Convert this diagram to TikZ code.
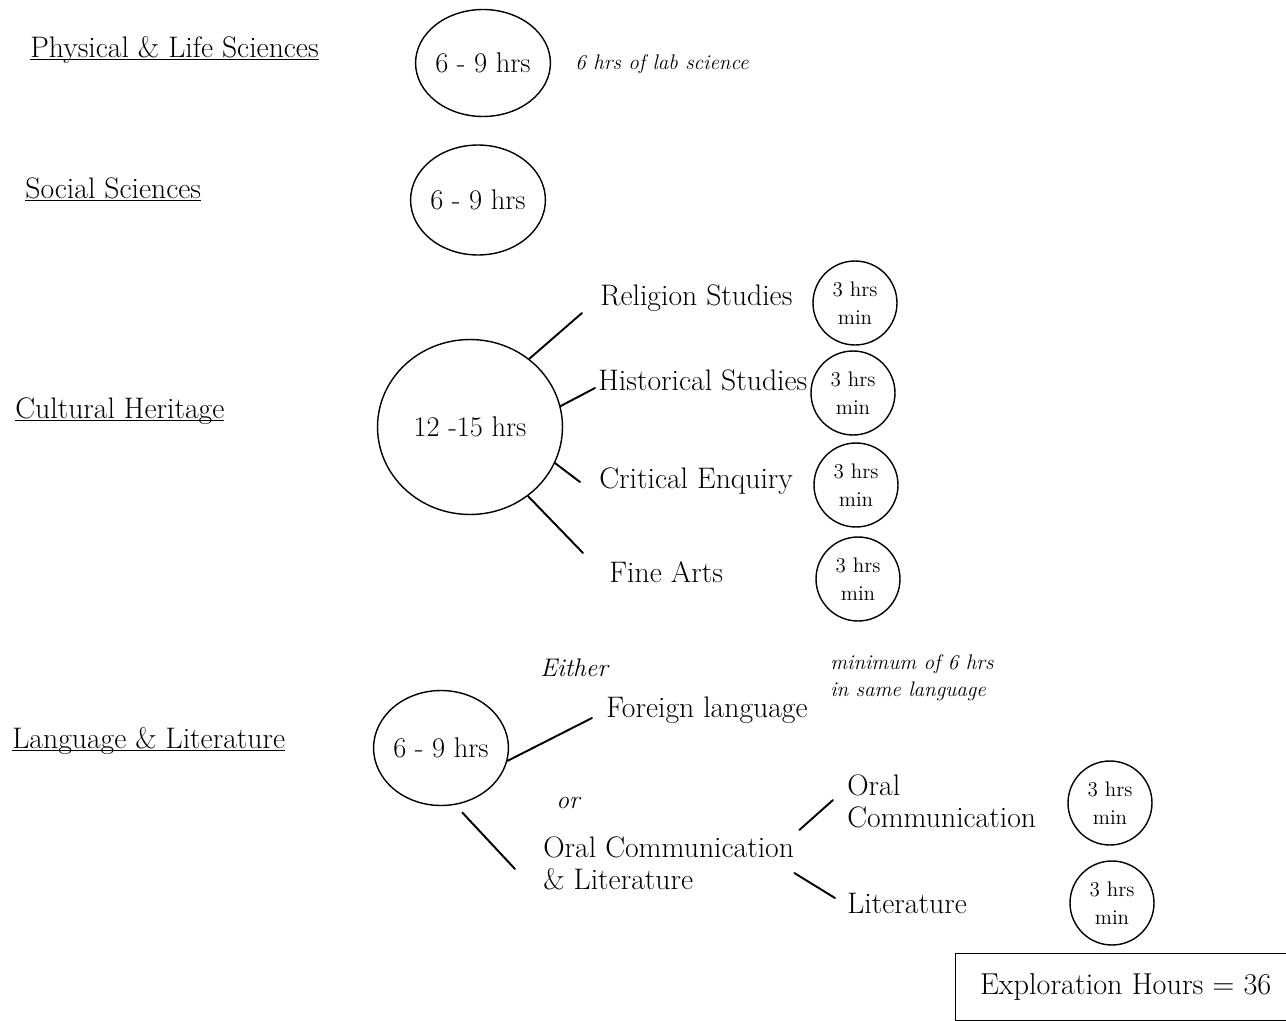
\documentclass[tikz,border=0pt]{standalone}
\usepackage{fontspec}
\usetikzlibrary{shapes.geometric,calc}

\newcommand\areaname[1]{\underline{\smash{#1}}}
\tikzset{
  hrs/.style={draw,ellipse,line width=0.8pt,inner sep=0pt,font=\fontsize{16.2}{18}\selectfont},
  minhrs/.style={draw,circle,line width=0.8pt,minimum size=1.68cm,inner sep=0pt,align=center,font=\fontsize{12}{16}\selectfont},
  lbl/.style={anchor=base west,inner sep=0pt,font=\fontsize{16.9}{18.7}\selectfont},
  note/.style={anchor=base west,inner sep=0pt,align=left,font=\fontsize{12}{15.3}\selectfont\itshape},
  branch/.style={line width=1.1pt},
}

\begin{document}
\begin{tikzpicture}[x=0.02cm,y=-0.02cm,line cap=round,line join=round]
  \useasboundingbox (0,0) rectangle (1286,1021);
  % areas
  \node[lbl] (phys) at (30,57) {\areaname{Physical \& Life Sciences}};
  \node[lbl] (soc) at (25,198) {\areaname{Social Sciences}};
  \node[lbl] (cult) at (15,418) {\areaname{Cultural Heritage}};
  \node[lbl] (lang) at (12,748) {\areaname{Language \& Literature}};
  % hours
  \node[hrs,minimum width=2.4cm,minimum height=2.14cm] (physhrs) at (483,63) {6 - 9 hrs};
  \node[note] (lab) at (575,70) {6 hrs of lab science};
  \node[hrs,minimum width=2.4cm,minimum height=2.2cm] (sochrs) at (478,200) {6 - 9 hrs};
  \node[hrs,minimum width=3.7cm,minimum height=3.5cm] (culthrs) at (470,427) {12 -15 hrs};
  \node[hrs,minimum width=2.46cm,minimum height=2.3cm] (langhrs) at (441,748) {6 - 9 hrs};
  % cultural heritage
  \node[lbl] (rel) at (600,305) {Religion Studies};
  \node[lbl] (hist) at (598,390) {Historical Studies};
  \node[lbl] (crit) at (599,488) {Critical Enquiry};
  \node[lbl] (fine) at (609,582) {Fine Arts};
  \node[minhrs] (relmin) at (855,303) {3 hrs\\min};
  \node[minhrs] (histmin) at (853,393) {3 hrs\\min};
  \node[minhrs] (critmin) at (856,485) {3 hrs\\min};
  \node[minhrs] (finemin) at (858,579) {3 hrs\\min};
  \draw[branch] (culthrs.49) -- ($(rel.base west)+(-18,8)$);
  \draw[branch] (culthrs.13) -- ($(hist.base west)+(-3,-2)$);
  \draw[branch] (culthrs.-23) -- ($(crit.base west)+(-19,-6)$);
  \draw[branch] (culthrs.-50) -- ($(fine.base west)+(-26,-29)$);
  % language
  \node[lbl,font=\fontsize{14.5}{17}\selectfont\itshape] (either) at (540,676) {Either};
  \node[lbl] (forl) at (606,717) {Foreign language};
  \node[note] (same) at (830,696) {minimum of 6 hrs\\in same language};
  \node[lbl,font=\fontsize{14.5}{17}\selectfont\itshape] (or) at (556,808) {or};
  \node[lbl,anchor=north west,align=left] (ocl) at (543,836) {Oral Communication\\\& Literature};
  \node[lbl,anchor=north west,align=left] (oral) at (847,774) {Oral\\Communication};
  \node[lbl] (lit) at (847,913) {Literature};
  \node[minhrs] (oralmin) at (1110,803) {3 hrs\\min};
  \node[minhrs] (litmin) at (1112,903) {3 hrs\\min};
  \draw[branch] (langhrs.-11) -- ($(forl.base west)+(-14,1)$);
  \draw[branch,shorten <=6] (langhrs.-76) -- ($(ocl.north west)+(-28,33)$);
  \draw[branch] ($(ocl.north east)+(5,-6)$) -- ($(oral.north west)+(-14,26)$);
  \draw[branch] ($(ocl.north east)+(0,37)$) -- ($(lit.base west)+(-12,-15)$);
  % total
  \node[draw,line width=0.8pt,anchor=north west,minimum width=6.8cm,minimum height=1.34cm,
    font=\fontsize{17.2}{18}\selectfont] (total) at (955,953) {Exploration Hours = 36};
\end{tikzpicture}
\end{document}
